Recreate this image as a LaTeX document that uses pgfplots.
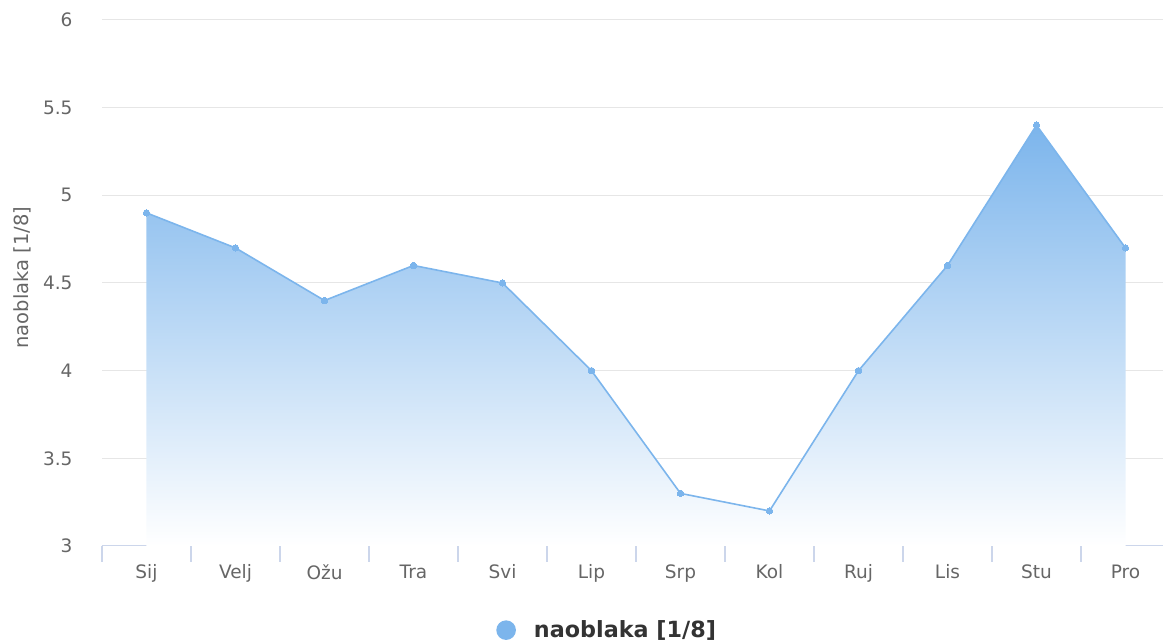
\documentclass[border=0pt]{standalone}
\usepackage{fontspec}
\setmainfont{DejaVu Sans}
\usepackage{pgfplots}
\pgfplotsset{compat=1.18}
\definecolor{lineblue}{HTML}{7CB5EC}
\definecolor{gridcol}{HTML}{E6E6E6}
\definecolor{axiscol}{HTML}{CCD6EB}
\definecolor{labcol}{HTML}{666666}
\definecolor{legcol}{HTML}{333333}
\begin{document}
\begin{tikzpicture}
\useasboundingbox (-102pt,-98pt) rectangle (1061pt,546pt);
\begin{axis}[
  scale only axis,
  width=1068pt, height=526pt,
  xmin=-0.5, xmax=11.5,
  ymin=3, ymax=6,
  axis lines*=left,
  x axis line style={draw=axiscol, line width=1pt, -},
  y axis line style={draw=none},
  xtick={0,...,11},
  xticklabels={Sij,Velj,Ožu,Tra,Svi,Lip,Srp,Kol,Ruj,Lis,Stu,Pro},
  major x tick style={draw=none},
  major tick length=0pt,
  minor xtick={-0.5,0.5,...,11.5},
  minor x tick style={draw=axiscol, line width=1.2pt},
  minor tick length=16pt,
  xtick align=outside,
  ytick={3,3.5,4,4.5,5,5.5,6},
  ytick style={draw=none},
  ymajorgrids,
  grid style={draw=gridcol, line width=1pt},
  /pgf/number format/assume math mode=true,
  tick label style={font=\fontsize{18.5pt}{20pt}\selectfont, text=labcol},
  xticklabel style={anchor=north, yshift=-15pt},
  yticklabel style={anchor=east, xshift=-26pt},
  ylabel={naoblaka [1/8]},
  ylabel style={at={(axis description cs:-0.0749,0.51)}, anchor=center, font=\fontsize{19.5pt}{21pt}\selectfont, text=labcol},
  legend style={at={(axis description cs:0.473,-0.16)}, anchor=center, draw=none, fill=none,
    font=\bfseries\fontsize{22.3pt}{24pt}\selectfont, text=legcol, column sep=16pt},
  legend image code/.code={\fill[lineblue] (0pt,0pt) circle (9pt);},
]
\addplot[draw=none, top color=lineblue, bottom color=white, forget plot]
  coordinates {(0,3) (0,4.9) (1,4.7) (2,4.4) (3,4.6) (4,4.5) (5,4.0) (6,3.3) (7,3.2) (8,4.0) (9,4.6) (10,5.4) (11,4.7) (11,3)} -- cycle;
\addplot[color=lineblue, line width=1.6pt, mark=*, mark size=3.2pt, mark options={fill=lineblue, draw=lineblue, line width=0pt}]
  coordinates {(0,4.9) (1,4.7) (2,4.4) (3,4.6) (4,4.5) (5,4.0) (6,3.3) (7,3.2) (8,4.0) (9,4.6) (10,5.4) (11,4.7)};
\addlegendentry{naoblaka [1/8]}
\end{axis}
\end{tikzpicture}
\end{document}
